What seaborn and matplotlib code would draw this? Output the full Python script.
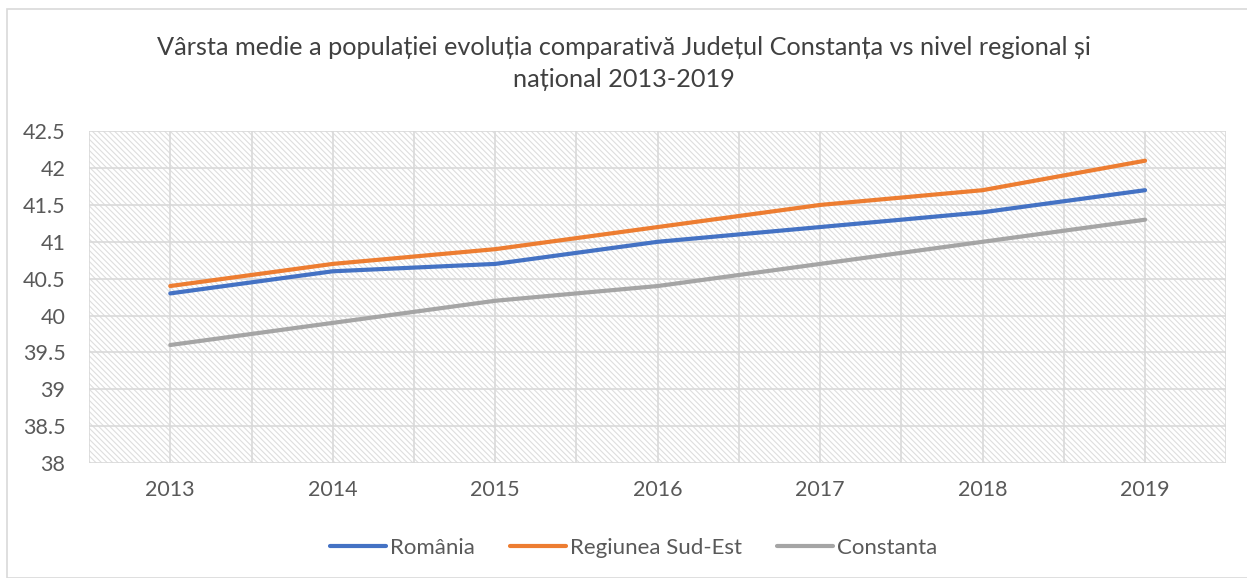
import pandas as pd
import matplotlib.pyplot as plt
import seaborn as sns
from matplotlib.patches import Rectangle

years = [2013, 2014, 2015, 2016, 2017, 2018, 2019]
romania = [40.3, 40.6, 40.7, 41.0, 41.2, 41.4, 41.7]
sud_est = [40.4, 40.7, 40.9, 41.2, 41.5, 41.7, 42.1]
constanta = [39.6, 39.9, 40.2, 40.4, 40.7, 41.0, 41.3]
series_names = ['România', 'Regiunea Sud-Est', 'Constanta']
colors = ['#4472C4', '#ED7D31', '#A5A5A5']

df = pd.DataFrame({'An': years * 3,
                   'Valoare': romania + sud_est + constanta,
                   'Serie': [s for s in series_names for _ in years]})

sns.set_style('white')
plt.rcParams['font.family'] = ['Lato', 'DejaVu Sans']
plt.rcParams['hatch.linewidth'] = 0.8

fig = plt.figure(figsize=(12.47, 5.78), dpi=100)
ax = fig.add_axes([0.0714, 0.199, 0.912, 0.574])

# hatched plot area like the Excel chart
ax.patch.set_facecolor('white')
ax.patch.set_edgecolor('#dedede')
ax.patch.set_hatch('\\' * 6)
ax.patch.set_linewidth(0)

sns.lineplot(data=df, x='An', y='Valoare', hue='Serie', palette=colors,
             linewidth=3, ax=ax, legend=True)

ax.set_xlim(2012.5, 2019.5)
ax.set_ylim(38, 42.5)
ax.set_xticks(years)
ax.set_xticklabels([str(y) for y in years])
ax.set_xticks([y - 0.5 for y in years] + [2019.5], minor=True)
ax.set_yticks([38 + 0.5 * i for i in range(10)])
ax.set_yticklabels(['38', '38.5', '39', '39.5', '40', '40.5', '41', '41.5', '42', '42.5'])
ax.grid(True, which='both', color='#d9d9d9', linewidth=1.2)
ax.set_axisbelow(True)
ax.tick_params(axis='both', which='both', length=0, labelsize=15.5, labelcolor='#595959')
ax.tick_params(axis='x', pad=12)
ax.tick_params(axis='y', pad=17)
for s in ax.spines.values():
    s.set_visible(False)
ax.set_xlabel('')
ax.set_ylabel('')

ax.legend(loc='center', ncol=3, frameon=False, fontsize=16, labelcolor='#595959',
          handlelength=2.5, handletextpad=0.18, columnspacing=1.6)
leg = ax.get_legend()
leg.set_bbox_to_anchor((0.508, 1 - 548 / 578), transform=fig.transFigure)

fig.text(0.5, 1 - 63.5 / 578,
         'Vârsta medie a populației evoluția comparativă Județul Constanța vs nivel regional și\nnațional 2013-2019',
         ha='center', va='center', fontsize=18.2, color='#404040', linespacing=1.45)

fig.patches.append(Rectangle((7 / 1247, 0), 1.0, 1 - 9 / 578, transform=fig.transFigure,
                             fill=False, edgecolor='#d9d9d9', linewidth=1.2))

plt.savefig('out.png', dpi=100)
